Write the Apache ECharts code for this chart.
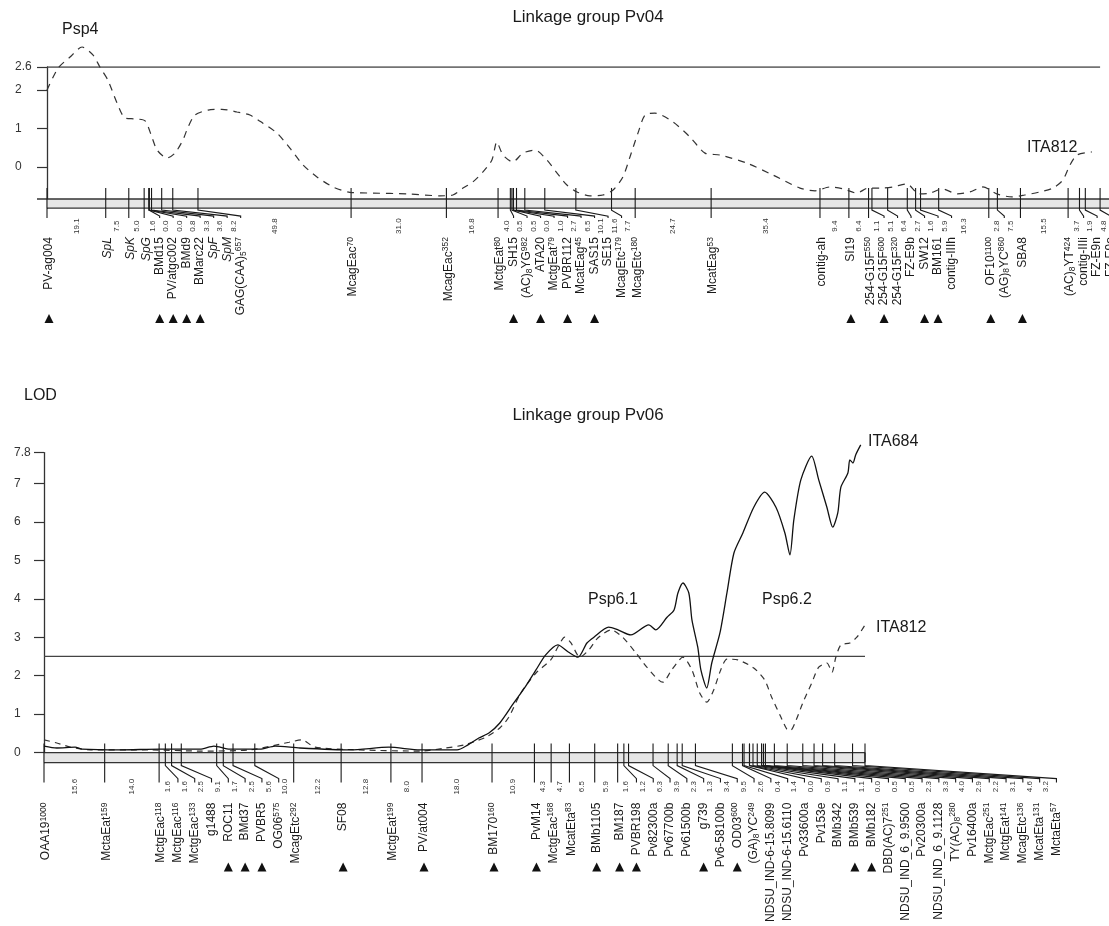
<!DOCTYPE html>
<html><head><meta charset="utf-8">
<script src="https://cdn.jsdelivr.net/npm/echarts@6/dist/echarts.min.js"></script>
<style>html,body{margin:0;padding:0;background:#fff}#c{width:1109px;height:926px}</style>
</head><body><div id="c"></div>
<script>
// ================= DATA =================
// Linkage group Pv04 (top panel). "~" = italic, ^{..} superscript, _{..} subscript
const pv04Markers = ['PV-ag004','~SpL','~SpK','~SpG','BMd15','PV/atgc002','BMd9','BMarc22','~SpF','~SpM',
  'GAG(CAA)_{5}^{657}','McagEac^{70}','McagEac^{352}','MctgEat^{80}','SH15','(AC)_{8}YG^{982}','ATA20','MctgEat^{79}',
  'PVBR112','McatEag^{45}','SAS15','SE15','McagEtc^{179}','McagEtc^{180}','McatEag^{53}','contig-ah','SI19',
  '254-G15F^{550}','254-G15F^{600}','254-G15F^{320}','FZ-E9b','SW12','BM161','contig-IIIh','OF10^{1100}',
  '(AG)_{8}YC^{860}','SBA8','(AC)_{8}YT^{424}','contig-IIIi','FZ-E9n','FZ-E9o'];
const pv04Intervals = [19.1,7.5,5.0,1.6,0.0,0.0,0.8,3.3,3.6,8.2,49.8,31.0,16.8,4.0,0.5,0.5,0.0,1.0,2.7,6.5,
  10.1,11.6,7.7,24.7,35.4,9.4,6.4,1.1,5.1,6.4,2.7,1.6,5.9,16.3,2.8,7.5,15.5,3.7,1.9,4.8];
const pv04Triangles = ['PV-ag004','BMd15','PV/atgc002','BMd9','BMarc22','SH15','ATA20','PVBR112','SAS15',
  'SI19','254-G15F^{600}','SW12','BM161','OF10^{1100}','SBA8'];
const pv04Threshold = 2.6;
const pv04YTicks = [0, 1, 2, 2.6];
// LOD profile ITA812 on Pv04 : [position cM, LOD]
const pv04ITA812 = [[0,2.0],[3.6,2.57],[7.5,2.86],[11.4,3.12],[15.0,2.91],[17.2,2.6],[19.8,2.26],[22.8,1.66],
  [25.4,1.27],[28.6,1.25],[31.9,1.2],[34.1,0.78],[35.8,0.44],[39.0,0.23],[41.6,0.36],[44.2,0.70],[45.9,1.04],
  [48.1,1.35],[52.4,1.48],[56.9,1.5],[61.8,1.43],[66.0,1.35],[70.2,1.14],[74.8,0.88],[79.0,0.49],[83.3,0.05],
  [87.8,-0.26],[93.0,-0.52],[98.5,-0.66],[106.0,-0.68],[117.1,-0.7],[127.8,-0.75],[132.0,-0.73],[135.3,-0.55],
  [138.5,-0.39],[141.8,-0.13],[144.7,0.18],[146.3,0.65],[148.3,0.31],[151.5,0.13],[154.8,0.36],[158.7,0.44],
  [162.6,0.18],[165.9,-0.16],[169.1,-0.47],[172.4,-0.65],[176.6,-0.75],[180.8,-0.73],[184.1,-0.6],[187.3,-0.26],
  [189.6,0.26],[192.2,0.88],[194.5,1.35],[197.7,1.40],[203.6,1.17],[209.1,0.78],[214.0,0.36],[218.9,0.31],
  [227.6,0.1],[236.1,-0.21],[244.9,-0.55],[249.8,-0.62],[254.6,-0.52],[258.9,-0.57],[263.4,-0.68],[267.0,-0.55],
  [271.5,-0.55],[275.1,-0.52],[279.7,-0.44],[283.5,-0.7],[287.2,-0.68],[291.1,-0.57],[296.1,-0.70],[300.2,-0.65],
  [304.4,-0.52],[308.9,-0.70],[313.8,-0.78],[318.0,-0.73],[322.9,-0.65],[327.2,-0.55],[330.4,-0.34],[332.7,0.05],
  [335.0,0.31],[339.8,0.39]];

// Linkage group Pv06 (bottom panel)
const pv06Markers = ['OAA19^{1000}','MctaEat^{159}','MctgEac^{118}','MctgEac^{116}','MctgEac^{133}','g1488','ROC11',
  'BMd37','PVBR5','OG06^{575}','McagEtc^{292}','SF08','MctgEat^{199}','PV/at004','BM170^{160}','PvM14',
  'MctgEac^{168}','McatEta^{83}','BMb1105','BM187','PVBR198','Pv82300a','Pv67700b','Pv61500b','g739',
  'Pv6-58100b','OD03^{600}','(GA)_{8}YC^{249}','NDSU_IND-6-15.8099','NDSU_IND-6-15.6110','Pv33600a','Pv153e',
  'BMb342','BMb539','BMb182','DBD(AC)7^{251}','NDSU_IND_6_9.9500','Pv20300a','NDSU_IND_6_9.1128',
  'TY(AC)_{8}^{280}','Pv16400a','MctgEac^{251}','MctgEat^{141}','McagEtc^{136}','McatEta^{131}','MctaEta^{57}'];
const pv06Intervals = [15.6,14.0,1.6,1.6,2.5,9.1,1.7,2.5,5.6,10.0,12.2,12.8,8.0,18.0,10.9,4.3,4.7,6.5,5.9,1.6,
  1.2,6.3,3.9,2.3,1.3,3.4,9.5,2.6,0.4,1.4,0.0,0.9,1.1,1.1,0.0,0.5,0.5,2.3,3.3,4.0,2.9,2.2,3.1,4.6,3.2];
const pv06Triangles = ['ROC11','BMd37','PVBR5','SF08','PV/at004','BM170^{160}','PvM14','BMb1105','BM187',
  'PVBR198','g739','OD03^{600}','BMb539','BMb182'];
const pv06Threshold = 2.5;
const pv06YTicks = [0, 1, 2, 3, 4, 5, 6, 7, 7.8];
const pv06ITA684 = [[0,0.17],[3.3,0.12],[8.0,0.14],[9.8,0.09],[19.5,0.07],[29.8,0.09],[40.1,0.09],[43.7,0.17],
  [47.8,0.09],[55.5,0.09],[59.4,0.17],[65.8,0.12],[78.7,0.07],[88.7,0.14],[96.7,0.07],[106.2,0.07],[109.0,0.2],
  [111.8,0.38],[114.4,0.51],[117.2,0.77],[120.8,1.29],[123.7,1.70],[126.5,2.15],[129.0,2.54],[132.1,2.80],
  [134.9,2.61],[137.3,2.48],[139.6,2.85],[141.4,3.00],[145.2,3.26],[147.6,3.19],[150.9,3.06],[155.5,3.32],
  [157.3,3.19],[160.2,3.52],[162.0,3.71],[163.0,4.15],[164.3,4.41],[165.8,4.15],[166.6,3.45],[168.1,2.74],
  [168.9,2.15],[170.4,1.68],[171.7,2.33],[173.8,3.11],[175.6,4.15],[177.4,5.19],[179.7,5.71],[182.5,6.38],
  [185.3,6.77],[188.2,6.38],[190.5,5.71],[191.8,5.14],[192.8,6.05],[194.6,7.09],[197.4,7.71],[199.2,7.09],
  [201.3,6.38],[202.8,5.86],[204.1,6.23],[204.9,6.90],[206.7,7.27],[207.2,7.61],[208.0,7.53],[208.7,7.74],
  [210.0,8.0]];
const pv06ITA812 = [[0,0.33],[3.3,0.25],[6.9,0.14],[11.8,0.07],[27.2,0.07],[40.1,0.04],[53.0,0.07],[63.0,0.27],
  [66.3,0.33],[69.7,0.14],[81.2,0.07],[96.7,0.04],[103.3,0.12],[108.0,0.2],[113.6,0.40],[117.2,0.64],[119.5,0.92],
  [122.6,1.55],[126.5,2.07],[130.3,2.41],[132.1,2.74],[133.9,3.0],[135.5,2.85],[137.8,2.48],[140.1,2.67],
  [142.4,2.98],[145.8,3.19],[148.8,3.0],[152.2,2.59],[155.0,2.22],[159.1,1.83],[161.4,2.15],[164.3,2.48],
  [166.6,2.15],[168.6,1.55],[170.4,1.31],[172.2,1.63],[174.0,2.15],[175.6,2.43],[178.4,2.41],[182.5,2.2],
  [185.3,1.89],[187.1,1.44],[189.5,0.92],[191.0,0.61],[192.0,0.58],[193.4,0.85],[195.1,1.29],[197.4,1.81],
  [199.2,2.22],[201.3,2.33],[202.6,2.09],[203.6,2.48],[204.9,2.80],[207.2,2.85],[209.0,3.0],[211.1,3.32]];

// ================= RENDERING =================
const FONT = '"Liberation Sans", Arial, Helvetica, sans-serif';
const INK = '#1a1a1a';
const RICH = {
  sup: {fontSize: 8.5, fontFamily: FONT, fill: INK, color: INK, verticalAlign: 'top', lineHeight: 9},
  sub: {fontSize: 8.5, fontFamily: FONT, fill: INK, color: INK, verticalAlign: 'bottom', lineHeight: 9},
  it:  {fontSize: 12, fontFamily: FONT, fill: INK, color: INK, fontStyle: 'italic', lineHeight: 14}
};
function toRich(s) {
  const it = s.startsWith('~'); if (it) s = s.slice(1);
  s = s.replace(/\^\{([^}]*)\}/g, '{sup|$1}').replace(/_\{([^}]*)\}/g, '{sub|$1}');
  return it ? '{it|' + s + '}' : s;
}
function cumulative(iv) {
  const p = [0];
  iv.forEach(v => p.push(Math.round((p[p.length - 1] + v) * 100) / 100));
  return p;
}
const pv04Pos = cumulative(pv04Intervals);
const pv06Pos = cumulative(pv06Intervals);

function markerSeries(names, intervals, pos, triangles, axisIdx, g) {
  return {
    type: 'custom', xAxisIndex: axisIdx, yAxisIndex: axisIdx, clip: false, silent: true, z: 4,
    data: names.map((n, i) => [pos[i], 0]),
    renderItem(params, api) {
      const i = params.dataIndex;
      const yTop = api.coord([0, g.barTop])[1], yBot = api.coord([0, g.barBot])[1];
      const tx = pos.map(p => api.coord([p, 0])[0]);
      const lx = [];
      tx.forEach((t, k) => { let v = t + g.off; if (k > 0) v = Math.max(v, lx[k - 1] + g.gap); lx.push(v); });
      const t = tx[i], l = lx[i];
      const ls = {stroke: INK, lineWidth: 1.1};
      const ch = [];
      if (l - t <= g.off + 0.5) {
        ch.push({type: 'line', shape: {x1: t, y1: yTop - g.up, x2: t, y2: yBot + g.connEnd}, style: ls});
      } else {
        ch.push({type: 'line', shape: {x1: t, y1: yTop - g.up, x2: t, y2: yBot}, style: ls});
        ch.push({type: 'polyline', shape: {points: [[t, yBot], [t, yBot + g.knee], [l, yBot + g.slant], [l, yBot + g.connEnd]]},
          style: {stroke: INK, lineWidth: 1.1, fill: null}});
      }
      ch.push({type: 'text', x: l, y: yBot + g.nameY, rotation: Math.PI / 2,
        style: {text: toRich(names[i]), rich: RICH, fontSize: 12, fontFamily: FONT, fill: INK, lineHeight: 14,
          align: 'right', verticalAlign: 'middle'}});
      if (i < names.length - 1) {
        const nx = Math.max(l + 6.5, (t + tx[i + 1]) / 2);
        ch.push({type: 'text', x: nx, y: yBot + g.numY, rotation: Math.PI / 2,
          style: {text: intervals[i].toFixed(1), fontSize: 8, fontFamily: FONT, fill: '#333',
            align: 'center', verticalAlign: 'middle'}});
      }
      if (triangles.indexOf(names[i]) >= 0) {
        const ty = yBot + g.triY;
        ch.push({type: 'polygon', shape: {points: [[l - 4.5, ty + 9], [l + 4.5, ty + 9], [l, ty]]}, style: {fill: '#111'}});
      }
      return {type: 'group', children: ch};
    }
  };
}
function barSeries(axisIdx, endPos, g, closed) {
  return {
    type: 'custom', xAxisIndex: axisIdx, yAxisIndex: axisIdx, clip: false, silent: true, z: 2,
    data: [[0, endPos]],
    renderItem(params, api) {
      const p0 = api.coord([0, g.barTop]), p1 = api.coord([endPos, g.barBot]);
      const ch = [
        {type: 'rect', shape: {x: p0[0], y: p0[1], width: p1[0] - p0[0], height: p1[1] - p0[1]}, style: {fill: '#e6e6e6'}},
        {type: 'line', shape: {x1: p0[0] - g.extendLeft, y1: p0[1], x2: p1[0], y2: p0[1]}, style: {stroke: '#333', lineWidth: 1.4}},
        {type: 'line', shape: {x1: p0[0], y1: p1[1], x2: p1[0], y2: p1[1]}, style: {stroke: '#333', lineWidth: 1.4}}
      ];
      if (closed) ch.push({type: 'line', shape: {x1: p1[0], y1: p0[1], x2: p1[0], y2: p1[1]}, style: {stroke: '#333', lineWidth: 1.4}});
      return {type: 'group', children: ch};
    }
  };
}
const GT = {barTop: -0.832, barBot: -1.07, up: 11, knee: 2, slant: 8, connEnd: 10, numY: 18, nameY: 29, triY: 106, gap: 13.5, off: 2, extendLeft: 10};
const GB = {barTop: 0, barBot: -0.26, up: 9, knee: 3, slant: 16, connEnd: 20, numY: 24, nameY: 40, triY: 100, gap: 16.8, off: 2, extendLeft: 0};

function yAxisCfg(idx, min, max, ticks, margin) {
  return {gridIndex: idx, type: 'value', min, max,
    axisLine: {show: true, lineStyle: {color: '#333', width: 1.3}},
    axisTick: {show: true, length: 10, customValues: ticks, lineStyle: {color: '#333', width: 1.2}},
    axisLabel: {customValues: ticks, align: 'left', margin, fontSize: 12, color: '#333', fontFamily: FONT},
    splitLine: {show: false}};
}
const pv04End = pv04Pos[pv04Pos.length - 1];
const pv06End = pv06Pos[pv06Pos.length - 1];
const chart = echarts.init(document.getElementById('c'), null, {renderer: 'canvas'});
const T = (text, x, y, size, align) => ({type: 'text', x, y,
  style: {text, fontSize: size, fontFamily: FONT, fill: INK, align: align || 'left', verticalAlign: 'middle'}});
chart.setOption({
  animation: false,
  backgroundColor: '#fff',
  grid: [{left: 47, top: 67, width: 1062, height: 141.1}, {left: 44, top: 452.6, width: 821, height: 310}],
  xAxis: [{gridIndex: 0, type: 'value', min: 0, max: 345.4, show: false},
          {gridIndex: 1, type: 'value', min: 0, max: pv06End, show: false}],
  yAxis: [yAxisCfg(0, -1.07, 2.6, pv04YTicks, 32), yAxisCfg(1, -0.26, 7.8, pv06YTicks, 30)],
  graphic: [
    T('Linkage group Pv04', 588, 17, 17, 'center'),
    T('Psp4', 62, 30, 16),
    T('ITA812', 1027, 148, 16),
    T('LOD', 24, 396, 16),
    T('Linkage group Pv06', 588, 415, 17, 'center'),
    T('Psp6.1', 588, 600, 16),
    T('Psp6.2', 762, 600, 16),
    T('ITA684', 868, 442, 16),
    T('ITA812', 876, 628, 16)
  ],
  series: [
    barSeries(0, 345.4, GT, false),
    markerSeries(pv04Markers, pv04Intervals, pv04Pos, pv04Triangles, 0, GT),
    {type: 'line', xAxisIndex: 0, yAxisIndex: 0, data: [[0, pv04Threshold], [pv04End, pv04Threshold]],
      symbol: 'none', lineStyle: {color: '#444', width: 1.3}, z: 3, silent: true},
    {type: 'line', xAxisIndex: 0, yAxisIndex: 0, data: pv04ITA812, symbol: 'none', smooth: 0.25, clip: false,
      lineStyle: {color: '#333', width: 1.2, type: [7, 6]}, z: 5, silent: true},
    barSeries(1, pv06End, GB, true),
    markerSeries(pv06Markers, pv06Intervals, pv06Pos, pv06Triangles, 1, GB),
    {type: 'line', xAxisIndex: 1, yAxisIndex: 1, data: [[0, pv06Threshold], [pv06End, pv06Threshold]],
      symbol: 'none', lineStyle: {color: '#444', width: 1.3}, z: 3, silent: true},
    {type: 'line', xAxisIndex: 1, yAxisIndex: 1, data: pv06ITA812, symbol: 'none', smooth: 0.25, clip: false,
      lineStyle: {color: '#333', width: 1.2, type: [6, 5]}, z: 5, silent: true},
    {type: 'line', xAxisIndex: 1, yAxisIndex: 1, data: pv06ITA684, symbol: 'none', smooth: 0.25, clip: false,
      lineStyle: {color: '#111', width: 1.3}, z: 6, silent: true}
  ]
});
</script></body></html>
